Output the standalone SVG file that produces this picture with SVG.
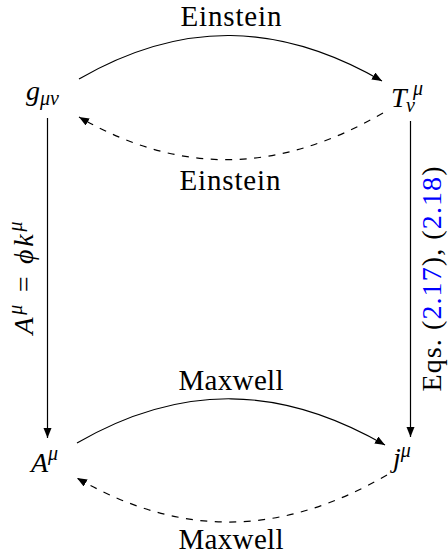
<svg xmlns="http://www.w3.org/2000/svg" width="448" height="556" viewBox="0 0 448 556">
  <style>
    text { font-family: "Liberation Serif", "DejaVu Serif", serif; fill: #000; }
    .lbl { font-size: 29px; text-anchor: middle; }
    .m { font-size: 28px; font-style: italic; }
    .s { font-size: 20px; font-style: italic; }
    .ref { fill: #0000ff; }
    .solid { fill: none; stroke: #000; stroke-width: 1.2; }
    .dash { fill: none; stroke: #000; stroke-width: 1.2; stroke-dasharray: 7 7.5; }
  </style>
  <defs>
    <marker id="arr" markerUnits="userSpaceOnUse" markerWidth="12" markerHeight="9" refX="10" refY="4" orient="auto">
      <path d="M0,0 L10,4 L0,8 z" fill="#000"/>
    </marker>
  </defs>
  <rect width="448" height="556" fill="#fff"/>

  <g id="connectors">
    <path class="solid" d="M79,79 C181.7,19.7 279.3,21.7 382,81" marker-end="url(#arr)"/>
    <path class="dash" d="M383,113 C280,172.5 182,176.5 79,117" marker-end="url(#arr)"/>
    <path class="solid" d="M77,443 C181.4,382.7 280.6,384.7 385,445" marker-end="url(#arr)"/>
    <path class="dash" d="M387,475 C281.9,535.7 182.1,538.7 77,478" marker-end="url(#arr)"/>
    <line class="solid" x1="47.5" y1="118" x2="47.5" y2="438" marker-end="url(#arr)"/>
    <line class="solid" x1="410.5" y1="121" x2="410.5" y2="437" marker-end="url(#arr)"/>
    <text class="lbl" x="231" y="26" textLength="101">Einstein</text>
    <text class="lbl" x="230" y="190" textLength="101">Einstein</text>
    <text class="lbl" x="231" y="390" textLength="105">Maxwell</text>
    <text class="lbl" x="231" y="549" textLength="105">Maxwell</text>
    <text transform="translate(33,278) rotate(-90)" text-anchor="middle" font-size="28" textLength="113"><tspan font-style="italic">A</tspan><tspan class="s" dy="-11">μ</tspan><tspan dy="11"> = </tspan><tspan font-style="italic">ϕk</tspan><tspan class="s" dy="-11">μ</tspan></text>
    <text transform="translate(441,279) rotate(-90)" text-anchor="middle" font-size="28" textLength="225">Eqs. (<tspan class="ref">2.17</tspan>), (<tspan class="ref">2.18</tspan>)</text>
  </g>

  <g id="g">
    <text x="26" y="100"><tspan class="m">g</tspan><tspan class="s" dy="5">μν</tspan></text>
  </g>
  <g id="T">
    <text x="391" y="107" class="m">T</text>
    <text x="413" y="95" class="s">μ</text>
    <text x="406" y="112" class="s">ν</text>
  </g>
  <g id="A">
    <text x="31" y="472"><tspan class="m">A</tspan><tspan class="s" dy="-12">μ</tspan></text>
  </g>
  <g id="j">
    <text x="393" y="467"><tspan class="m">j</tspan><tspan class="s" dy="-10">μ</tspan></text>
  </g>
</svg>
